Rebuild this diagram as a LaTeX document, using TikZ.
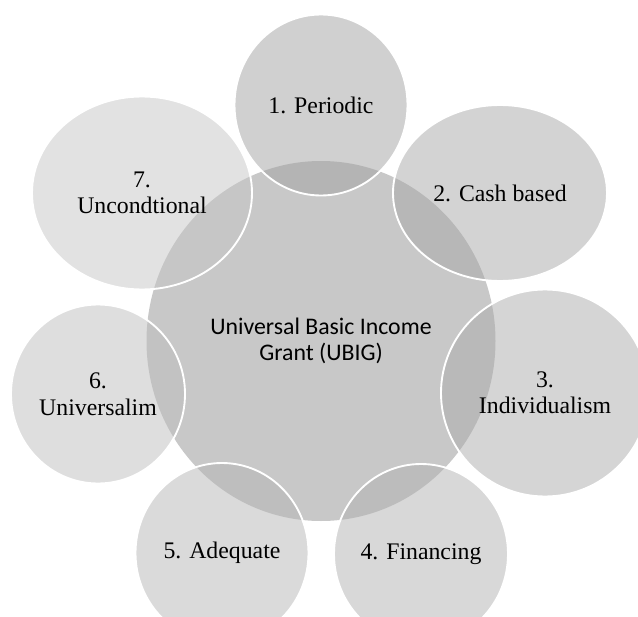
\documentclass[tikz,border=0pt]{standalone}
\usepackage{fontspec}
\setmainfont{Liberation Serif}
\newfontfamily\hubfont{Carlito}
\usepackage{tikz}
\usetikzlibrary{shapes.geometric}
\usepackage{xcolor}
\definecolor{hubGray}{RGB}{200, 200, 200}
\definecolor{ringA}{RGB}{161, 161, 161}
\definecolor{ringB}{RGB}{167, 167, 167}
\definecolor{ringC}{RGB}{171, 171, 171}
\definecolor{ringD}{RGB}{177, 177, 177}
\definecolor{ringE}{RGB}{181, 181, 181}
\definecolor{ringF}{RGB}{189, 189, 189}
\definecolor{ringG}{RGB}{197, 197, 197}

\begin{document}
\begin{tikzpicture}[x=0.03cm, y=-0.03cm,
    bubble/.style={ellipse, draw=white, line width=1.6pt, fill opacity=0.5,
      text opacity=1, inner sep=0pt, align=center,
      font=\fontsize{20.3}{22.6}\selectfont}]
  \def\pxu{0.03cm}
  \useasboundingbox (0,0) rectangle (638,617);
  \clip (0,0) rectangle (638,617);

  % the grant in the middle
  \node[ellipse, fill=hubGray, inner sep=0pt, align=center,
    minimum width=349*\pxu, minimum height=360*\pxu,
    font=\hubfont\fontsize{20.3}{22.6}\selectfont]
    (ubig) at (321, 341) {Universal Basic Income\\Grant (UBIG)};

  % the seven features round it
  \node[bubble, fill=ringA, minimum width=173*\pxu, minimum height=181*\pxu]
    (periodic) at (321, 105) {1. Periodic};
  \node[bubble, fill=ringB, minimum width=214*\pxu, minimum height=176*\pxu]
    (cash) at (500, 193) {2. Cash based};
  \node[bubble, fill=ringC, minimum width=208*\pxu, minimum height=207*\pxu]
    (indiv) at (545, 393) {3.\\Individualism};
  \node[bubble, fill=ringD, minimum width=174*\pxu, minimum height=180*\pxu]
    (finance) at (421, 554) {4. Financing};
  \node[bubble, fill=ringE, minimum width=173*\pxu, minimum height=180*\pxu]
    (adequate) at (222, 553) {5. Adequate};
  \node[bubble, fill=ringF, minimum width=174*\pxu, minimum height=179*\pxu]
    (univ) at (98, 394) {6.\\Universalim};
  \node[bubble, fill=ringG, minimum width=220*\pxu, minimum height=193*\pxu]
    (uncond) at (142, 193) {7.\\Uncondtional};
\end{tikzpicture}
\end{document}
